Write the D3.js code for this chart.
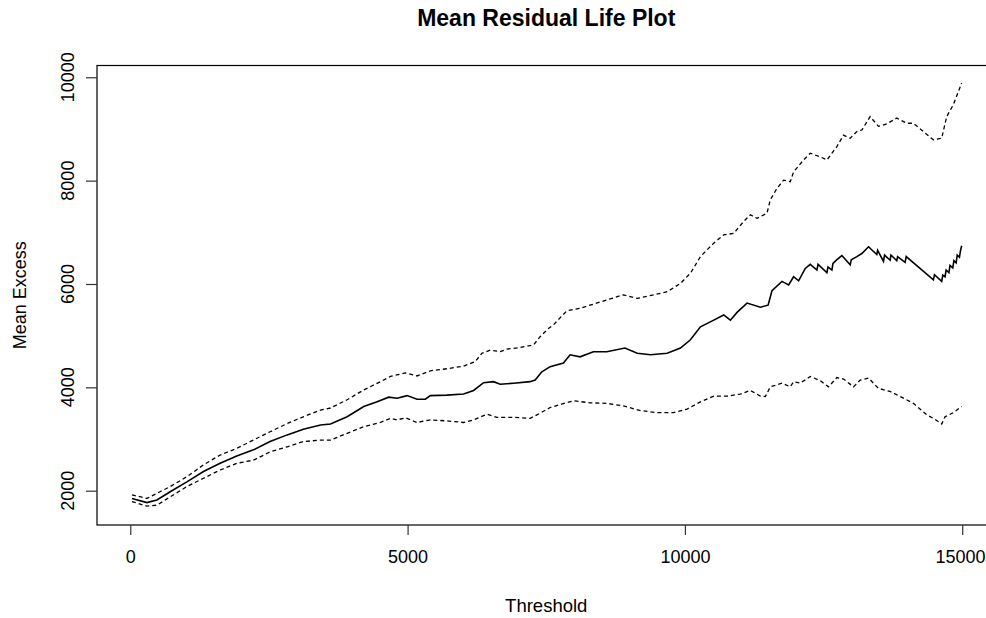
<!DOCTYPE html>
<html><head><meta charset="utf-8">
<script src="https://cdn.jsdelivr.net/npm/d3@7"></script>
<style>
body{margin:0;background:#fff}
svg{display:block}
text{font-family:"Liberation Sans",Arial,sans-serif;fill:#000}
</style>
</head><body>
<svg id="c" width="986" height="618"></svg>
<script>
// ---- data (threshold, mean excess) ----
const xTicks = [0, 5000, 10000, 15000];
const yTicks = [2000, 4000, 6000, 8000, 10000];

const meanExcess = [
 [30,1850],[300,1770],[480,1820],[720,1980],[1020,2170],[1320,2370],[1620,2530],[1920,2670],
 [2220,2790],[2520,2950],[2830,3080],[3120,3190],[3430,3270],[3610,3290],[3910,3430],[4210,3630],
 [4450,3720],[4660,3810],[4810,3790],[4990,3840],[5170,3770],[5320,3770],[5410,3840],[5710,3850],
 [6010,3870],[6190,3940],[6370,4090],[6550,4110],[6670,4060],[6910,4080],[7210,4110],[7300,4140],
 [7420,4300],[7570,4400],[7810,4470],[7930,4630],[8110,4590],[8350,4690],[8590,4690],[8920,4760],
 [9140,4660],[9380,4630],[9680,4660],[9920,4760],[10100,4920],[10280,5170],[10520,5300],[10700,5400],
 [10820,5300],[10940,5450],[11120,5630],[11360,5550],[11500,5590],[11570,5870],[11750,6050],[11870,5980],
 [11960,6140],[12050,6060],[12170,6300],[12260,6380],[12380,6270],[12400,6380],[12560,6220],[12580,6330],
 [12650,6270],[12670,6400],[12740,6470],[12830,6550],[12980,6370],[13000,6470],[13100,6530],[13190,6590],
 [13310,6720],[13460,6570],[13475,6650],[13580,6440],[13600,6560],[13700,6460],[13715,6560],[13820,6450],
 [13835,6530],[13970,6420],[13990,6530],[14480,6080],[14500,6180],[14630,6050],[14650,6170],[14690,6140],
 [14710,6270],[14760,6220],[14780,6360],[14830,6310],[14850,6450],[14890,6410],[14910,6560],[14950,6520],
 [14970,6650],[14990,6740]
];

const upperCI = [
 [30,1920],[300,1850],[720,2080],[1020,2270],[1320,2500],[1620,2690],[1920,2820],[2220,2980],
 [2520,3140],[2830,3300],[3120,3430],[3430,3560],[3610,3600],[3910,3760],[4210,3950],[4510,4110],
 [4690,4210],[4960,4280],[5170,4220],[5410,4320],[5710,4360],[6010,4410],[6220,4500],[6340,4660],
 [6490,4720],[6670,4690],[6790,4740],[7030,4770],[7270,4820],[7390,4980],[7540,5140],[7630,5210],
 [7870,5480],[8110,5530],[8350,5610],[8590,5690],[8890,5790],[9140,5720],[9440,5790],[9680,5850],
 [9920,6010],[10100,6210],[10280,6530],[10520,6790],[10700,6950],[10880,6980],[11060,7210],[11180,7340],
 [11300,7270],[11480,7370],[11540,7630],[11660,7850],[11780,8010],[11900,7980],[11960,8170],[12140,8400],
 [12260,8530],[12440,8460],[12560,8400],[12740,8660],[12860,8880],[12980,8820],[13100,8950],[13190,8980],
 [13340,9240],[13490,9050],[13640,9100],[13820,9210],[14000,9110],[14120,9110],[14300,8950],[14480,8790],
 [14630,8820],[14720,9240],[14840,9470],[14990,9890]
];

const lowerCI = [
 [30,1790],[300,1700],[480,1720],[720,1880],[1020,2080],[1320,2240],[1620,2400],[1920,2530],
 [2220,2590],[2520,2750],[2830,2850],[3120,2950],[3430,2980],[3610,2980],[3910,3110],[4210,3240],
 [4510,3320],[4690,3400],[4810,3370],[4960,3410],[5170,3320],[5410,3370],[5710,3350],[6010,3320],
 [6190,3370],[6430,3480],[6610,3420],[6910,3420],[7210,3400],[7390,3500],[7570,3610],[7990,3740],
 [8290,3700],[8590,3690],[8890,3640],[9200,3550],[9500,3510],[9800,3510],[10040,3580],[10280,3720],
 [10520,3830],[10760,3830],[11000,3870],[11180,3940],[11360,3830],[11450,3820],[11540,4010],[11750,4080],
 [11900,4010],[11960,4110],[12080,4080],[12260,4210],[12440,4130],[12590,4010],[12740,4190],[12860,4160],
 [13040,4010],[13160,4140],[13310,4180],[13490,3980],[13700,3920],[13940,3790],[14120,3690],[14360,3470],
 [14510,3380],[14630,3290],[14690,3430],[14840,3510],[14990,3630]
];

// ---- layout ----
const box = {left: 97, right: 995.5, top: 65.5, bottom: 525};
const svg = d3.select("#c");
const x = d3.scaleLinear().domain([-600, 15600]).range([box.left, box.right]);
const y = d3.scaleLinear().domain([1336, 10228]).range([box.bottom, box.top]);

// lines
const line = d3.line().x(d => x(d[0])).y(d => y(d[1]));
svg.append("path").datum(upperCI).attr("d", line)
  .attr("fill","none").attr("stroke","#000").attr("stroke-width",1.3).attr("stroke-dasharray","4,3");
svg.append("path").datum(lowerCI).attr("d", line)
  .attr("fill","none").attr("stroke","#000").attr("stroke-width",1.3).attr("stroke-dasharray","4,3");
svg.append("path").datum(meanExcess).attr("d", line)
  .attr("fill","none").attr("stroke","#000").attr("stroke-width",1.6);

// box
svg.append("rect").attr("x", box.left).attr("y", box.top)
  .attr("width", box.right - box.left).attr("height", box.bottom - box.top)
  .attr("fill","none").attr("stroke","#000").attr("stroke-width",1.2);

// x axis
const gx = svg.append("g").attr("transform", `translate(0,${box.bottom})`)
  .call(d3.axisBottom(x).tickValues(xTicks).tickSize(10).tickPadding(15).tickFormat(d3.format("d")));
gx.select(".domain").remove();
gx.selectAll("line").attr("stroke","#333").attr("stroke-width",1.2);
gx.selectAll("text").attr("font-size","18px").attr("font-family",'"Liberation Sans",Arial,sans-serif').attr("fill","#000");
// keep the last label inside the picture edge
gx.selectAll("text").filter(d => d === 15000).attr("text-anchor","end").attr("x", 985 - x(15000));

// y axis
const gy = svg.append("g").attr("transform", `translate(${box.left},0)`)
  .call(d3.axisLeft(y).tickValues(yTicks).tickSize(11).tickFormat(""));
gy.select(".domain").remove();
gy.selectAll("line").attr("stroke","#333").attr("stroke-width",1.2);
svg.append("g").selectAll("text").data(yTicks).join("text")
  .attr("transform", d => `translate(68,${y(d)}) rotate(-90)`)
  .attr("text-anchor","middle").attr("dominant-baseline","central")
  .attr("font-size","18px").text(d => d);

// titles
svg.append("text").attr("x", (box.left + box.right)/2).attr("y", 26)
  .attr("text-anchor","middle").attr("font-weight","bold").attr("font-size","23px")
  .text("Mean Residual Life Plot");
svg.append("text").attr("x", (box.left + box.right)/2).attr("y", 612)
  .attr("text-anchor","middle").attr("font-size","18.5px").text("Threshold");
svg.append("text").attr("transform", `translate(26,${(box.top+box.bottom)/2}) rotate(-90)`)
  .attr("text-anchor","middle").attr("font-size","18px").text("Mean Excess");
</script>
</body></html>
